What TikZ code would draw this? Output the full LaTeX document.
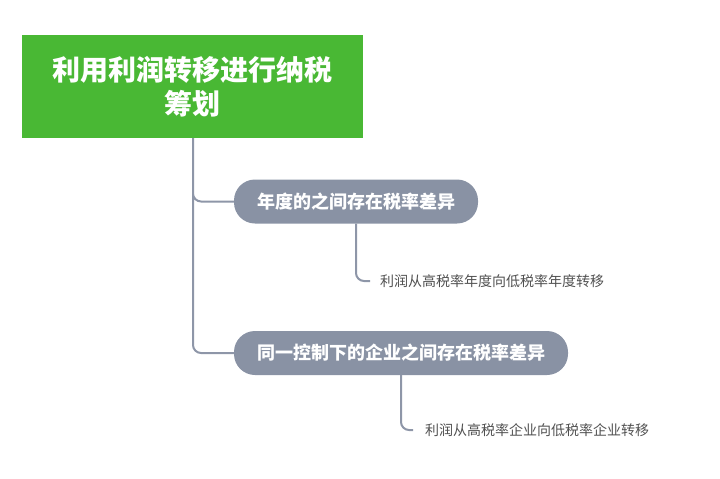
\documentclass[tikz,border=0pt]{standalone}
\usepackage{fontspec}
\newfontfamily\cjk{Noto Sans CJK SC}
\usetikzlibrary{positioning}
\definecolor{rootgreen}{RGB}{73,184,52}
\definecolor{subgrey}{RGB}{137,146,164}
\definecolor{linegrey}{RGB}{142,150,168}
\definecolor{leaftext}{RGB}{80,80,80}
\tikzset{
	rootbox/.style={fill=rootgreen,text=white,font=\cjk\bfseries\fontsize{28}{34}\selectfont,
		align=center,minimum width=341pt,minimum height=103pt,inner sep=0pt},
	subbox/.style={fill=subgrey,text=white,font=\cjk\bfseries\fontsize{18}{22}\selectfont,
		rounded corners=21pt,minimum height=44pt,inner sep=0pt},
	leaf/.style={text=leaftext,font=\cjk\fontsize{14}{17}\selectfont,anchor=west,inner sep=0pt},
	conn/.style={draw=linegrey,line width=2pt,rounded corners=8pt}
}
\begin{document}
\begin{tikzpicture}[x=1pt,y=-1pt]
\useasboundingbox (0,0) rectangle (720,479);

\node[rootbox] (root) at (192.5,86.5) {利用利润转移进行纳税\\筹划};
\node[subbox,minimum width=244pt] (year) at (356,201.5) {年度的之间存在税率差异};
\node[subbox,minimum width=334pt] (firm) at (401,353) {同一控制下的企业之间存在税率差异};
\node[leaf] (yearleaf) at (380,281) {利润从高税率年度向低税率年度转移};
\node[leaf] (firmleaf) at (425,430) {利润从高税率企业向低税率企业转移};

\coordinate (trunk) at (193,138);
\coordinate (yearend) at ([xshift=-10pt]yearleaf.west);
\coordinate (firmend) at ([xshift=-12pt]firmleaf.west);

\draw[conn]
	(trunk) |- (year.west)
	(trunk) |- (firm.west)
	(year.south) |- (yearend)
	(firm.south) |- (firmend);

\end{tikzpicture}
\end{document}
